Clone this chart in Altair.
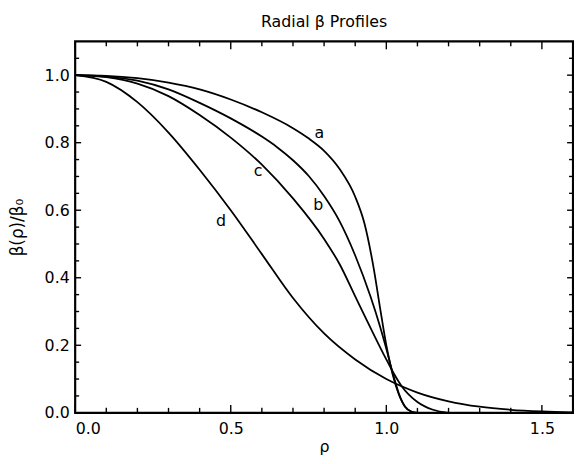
import altair as alt
import pandas as pd

# ---- data ----
rho_a = [0.0, 0.1, 0.2, 0.3, 0.4, 0.5, 0.6, 0.7, 0.75, 0.8, 0.85, 0.9, 0.93, 0.96, 0.98, 1.0, 1.02, 1.04, 1.06, 1.08, 1.1]
beta_a = [1.0, 0.998, 0.991, 0.978, 0.958, 0.928, 0.890, 0.843, 0.813, 0.776, 0.722, 0.640, 0.560, 0.425, 0.310, 0.200, 0.115, 0.055, 0.018, 0.004, 0.0]

rho_b = [0.0, 0.1, 0.2, 0.3, 0.4, 0.5, 0.6, 0.65, 0.7, 0.75, 0.8, 0.85, 0.9, 0.95, 0.98, 1.0, 1.02, 1.04, 1.06, 1.08, 1.1]
beta_b = [1.0, 0.996, 0.984, 0.958, 0.918, 0.872, 0.818, 0.786, 0.748, 0.702, 0.642, 0.567, 0.466, 0.342, 0.255, 0.190, 0.120, 0.058, 0.019, 0.004, 0.0]

rho_c = [0.0, 0.1, 0.2, 0.3, 0.4, 0.5, 0.6, 0.7, 0.8, 0.85, 0.9, 0.95, 1.0, 1.025, 1.05, 1.1, 1.15, 1.2]
beta_c = [1.0, 0.994, 0.975, 0.938, 0.882, 0.815, 0.735, 0.635, 0.515, 0.440, 0.345, 0.250, 0.158, 0.115, 0.078, 0.032, 0.009, 0.0]

rho_d = [0.0, 0.1, 0.2, 0.3, 0.4, 0.5, 0.6, 0.7, 0.8, 0.9, 1.0, 1.1, 1.2, 1.3, 1.4, 1.5, 1.6]
beta_d = [1.0, 0.98, 0.92, 0.83, 0.72, 0.60, 0.47, 0.34, 0.235, 0.158, 0.100, 0.060, 0.034, 0.018, 0.009, 0.004, 0.001]

label_text = ["a", "b", "c", "d"]
label_rho = [0.785, 0.781, 0.588, 0.469]
label_beta = [0.83, 0.616, 0.715, 0.567]

x_major = [0.0, 0.5, 1.0, 1.5]
x_minor = [0.1, 0.2, 0.3, 0.4, 0.6, 0.7, 0.8, 0.9, 1.1, 1.2, 1.3, 1.4]
y_major = [0.0, 0.2, 0.4, 0.6, 0.8, 1.0]
y_minor = [0.05, 0.1, 0.15, 0.25, 0.3, 0.35, 0.45, 0.5, 0.55, 0.65, 0.7, 0.75,
           0.85, 0.9, 0.95, 1.05]

# ---- tables ----
frames = []
for name, r, b in [("a", rho_a, beta_a), ("b", rho_b, beta_b), ("c", rho_c, beta_c), ("d", rho_d, beta_d)]:
    frames.append(pd.DataFrame({"rho": r, "beta": b, "curve": name}))
curves = pd.concat(frames, ignore_index=True)
labels = pd.DataFrame({"rho": label_rho, "beta": label_beta, "label": label_text})

W, H = 504, 376
FONT = "DejaVu Sans"
xscale = alt.Scale(domain=[0, 1.6], nice=False, zero=False)
yscale = alt.Scale(domain=[0, 1.1], nice=False, zero=False)
xaxis = alt.Axis(values=x_major, format=".1f", title="ρ", labelPadding=8, titlePadding=2)
yaxis = alt.Axis(values=y_major, format=".1f", title="β(ρ)/β₀", labelPadding=6,
                 titlePadding=18, titleFontSize=17)

lines = alt.Chart(curves).mark_line(
    color="black", strokeWidth=1.8, interpolate="monotone", clip=True
).encode(
    x=alt.X("rho:Q", scale=xscale, axis=xaxis),
    y=alt.Y("beta:Q", scale=yscale, axis=yaxis),
    detail="curve:N",
)

text = alt.Chart(labels).mark_text(font=FONT, fontSize=16, color="black").encode(
    x=alt.X("rho:Q", scale=xscale, axis=xaxis),
    y=alt.Y("beta:Q", scale=yscale, axis=yaxis),
    text="label:N",
)


def xticks(vals, length, top):
    df = pd.DataFrame({"rho": vals})
    y0, y1 = (0, length) if top else (H, H - length)
    return alt.Chart(df).mark_rule(color="black", strokeWidth=1.4).encode(
        x=alt.X("rho:Q", scale=xscale, axis=xaxis),
        y=alt.value(y0), y2=alt.value(y1))


def yticks(vals, length, right):
    df = pd.DataFrame({"beta": vals})
    x0, x1 = (W, W - length) if right else (0, length)
    return alt.Chart(df).mark_rule(color="black", strokeWidth=1.4).encode(
        y=alt.Y("beta:Q", scale=yscale, axis=yaxis),
        x=alt.value(x0), x2=alt.value(x1))


chart = alt.layer(
    lines, text,
    xticks(x_major, 8, False), xticks(x_minor, 5, False),
    xticks(x_major, 8, True), xticks(x_minor, 5, True),
    yticks(y_major, 6, False), yticks(y_minor, 4, False),
    yticks(y_major, 6, True), yticks(y_minor, 4, True),
).properties(
    width=W, height=H,
    title=alt.TitleParams("Radial β Profiles", font=FONT, fontSize=16,
                          fontWeight="normal", anchor="middle", offset=11, color="black"),
    autosize=alt.AutoSizeParams(type="none"),
    padding={"left": 68, "top": 31, "right": 1, "bottom": 48},
).configure_view(
    stroke="black", strokeWidth=2.2
).configure_axis(
    grid=False, domain=False, ticks=False,
    labelFont=FONT, labelFontSize=16, labelColor="black",
    titleFont=FONT, titleFontSize=16, titleFontWeight="normal", titleColor="black",
)

chart.save("out.html", embed_options={"renderer": "svg", "actions": False})
